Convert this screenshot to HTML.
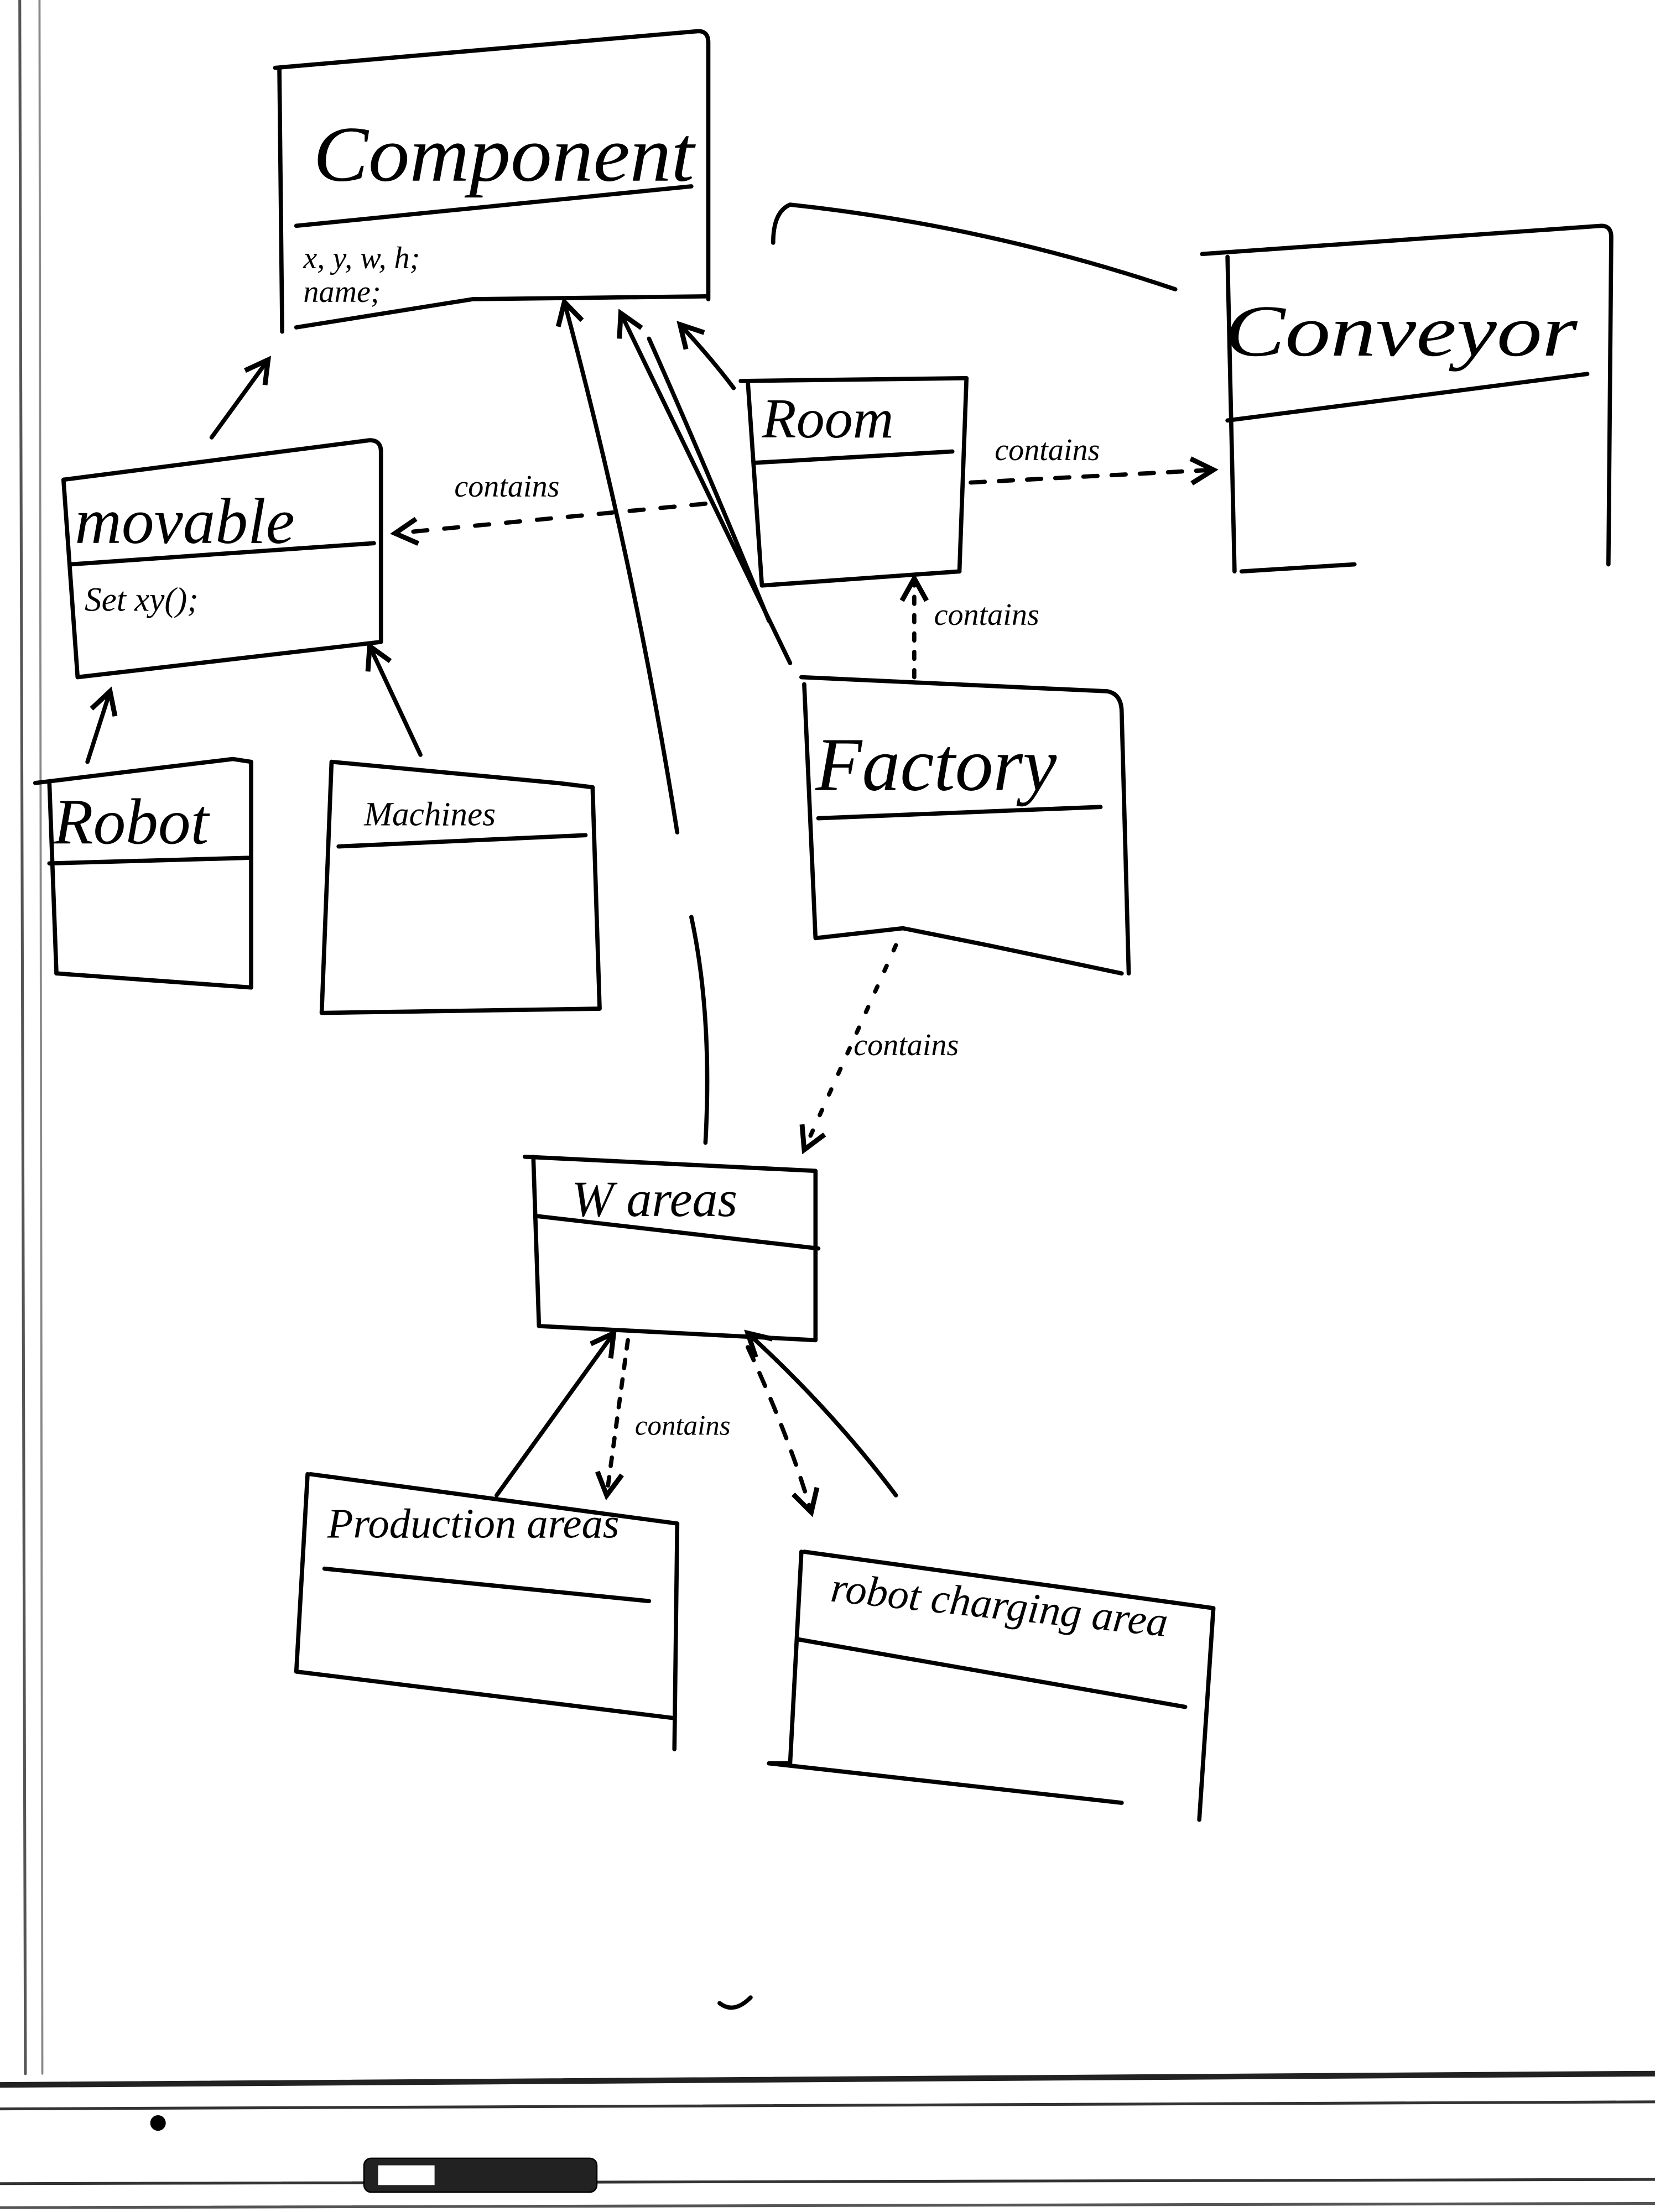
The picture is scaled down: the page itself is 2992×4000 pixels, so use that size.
<!DOCTYPE html>
<html><head><meta charset="utf-8"><style>
html,body{margin:0;padding:0;background:#fff;}
svg{display:block;}
text{font-family:"Liberation Serif",serif;font-style:italic;fill:#000;}
</style></head><body>
<svg width="2992" height="4000" viewBox="0 0 1173 1568" xmlns="http://www.w3.org/2000/svg">
<defs>
<marker id="a" viewBox="0 0 12 12" refX="10" refY="6" markerWidth="7" markerHeight="7" orient="auto-start-reverse">
<path d="M1,1 L10,6 L1,11" fill="none" stroke="#000" stroke-width="2"/></marker>
</defs>
<g fill="none" stroke="#000" stroke-width="3" stroke-linecap="round" stroke-linejoin="round">
<path d="M14,0 L18,1470" stroke="#555" stroke-width="2"/>
<path d="M28,0 L30,1470" stroke="#888" stroke-width="1.5"/>
<path d="M0,1478 L1173,1470" stroke="#222" stroke-width="4"/>
<path d="M0,1495 L1173,1490" stroke="#333" stroke-width="2"/>
<path d="M0,1548 L1173,1545" stroke="#333" stroke-width="2"/>
<path d="M0,1565 L1173,1562" stroke="#555" stroke-width="2"/>
<rect x="258" y="1530" width="165" height="24" rx="5" fill="#222" stroke="#000" stroke-width="1"/>
<rect x="268" y="1535" width="40" height="14" fill="#fff" stroke="none"/>
<circle cx="112" cy="1505" r="4" fill="#000"/>
<path d="M510,1420 Q520,1428 532,1416"/>

<path d="M195,48 L495,22 Q502,22 502,30 L502,212"/>
<path d="M198,48 L200,235"/>
<path d="M210,232 L335,212 L500,210"/>
<path d="M210,160 L490,132"/>
<path d="M852,180 L1135,160 Q1142,160 1142,168 L1140,400"/>
<path d="M870,182 L875,405"/>
<path d="M880,405 L960,400"/>
<path d="M870,298 L1125,265"/>
<path d="M833,205 Q700,160 560,145 Q548,150 548,172"/>
<path d="M525,270 L685,268 L680,405"/>
<path d="M530,270 L540,415 L680,405"/>
<path d="M535,328 L675,320"/>
<path d="M520,275 Q505,255 482,230" marker-end="url(#a)"/>
<path d="M688,342 L860,333" stroke-dasharray="10,10" marker-end="url(#a)"/>
<path d="M45,340 L262,312 Q270,312 270,320 L270,455 L55,480 L45,340"/>
<path d="M50,400 L265,385"/>
<path d="M150,310 L190,255" marker-end="url(#a)"/>
<path d="M500,357 L280,378" stroke-dasharray="10,12" marker-end="url(#a)"/>
<path d="M25,555 L165,538 L178,540 L178,700 L40,690"/>
<path d="M35,555 L40,690"/>
<path d="M35,612 L178,608"/>
<path d="M62,540 L78,490" marker-end="url(#a)"/>
<path d="M235,540 L395,555 L420,558 L425,715 L228,718 L235,540"/>
<path d="M240,600 L415,592"/>
<path d="M298,535 L262,458" marker-end="url(#a)"/>
<path d="M568,480 L785,490 Q795,492 795,505 L800,690"/>
<path d="M570,485 L578,665 L640,658 L700,670 L795,690"/>
<path d="M580,580 L780,572"/>
<path d="M560,470 L440,222" marker-end="url(#a)"/>
<path d="M545,440 Q500,330 460,240"/>
<path d="M648,480 L648,410" stroke-dasharray="5,8" marker-end="url(#a)"/>
<path d="M635,670 L570,815" stroke-dasharray="4,12" marker-end="url(#a)"/>
<path d="M500,810 Q505,720 490,650"/>
<path d="M480,590 Q450,400 400,214" marker-end="url(#a)"/>
<path d="M372,820 L578,830 L578,950 L382,940 L378,820"/>
<path d="M380,862 L580,885"/>
<path d="M220,1045 L480,1080 L478,1240"/>
<path d="M218,1045 L210,1185 L478,1218"/>
<path d="M230,1112 L460,1135"/>
<path d="M352,1060 L435,945" marker-end="url(#a)"/>
<path d="M445,950 L430,1060" stroke-dasharray="6,8" marker-end="url(#a)"/>
<path d="M570,1100 L860,1140 L850,1290"/>
<path d="M568,1100 L560,1250 L545,1250 L795,1278"/>
<path d="M565,1162 L840,1210"/>
<path d="M635,1060 Q590,1000 530,945" marker-end="url(#a)"/>
<path d="M530,955 Q560,1020 575,1072" stroke-dasharray="10,10" marker-end="url(#a)"/>
</g>
<text x="222" y="128" font-size="56" textLength="270" lengthAdjust="spacingAndGlyphs">Component</text>
<text x="215" y="190" font-size="22">x, y, w, h;</text>
<text x="215" y="214" font-size="22">name;</text>
<text x="868" y="252" font-size="52" textLength="250" lengthAdjust="spacingAndGlyphs">Conveyor</text>
<text x="540" y="310" font-size="40">Room</text>
<text x="705" y="326" font-size="22">contains</text>
<text x="53" y="385" font-size="46">movable</text>
<text x="60" y="433" font-size="24">Set xy();</text>
<text x="322" y="352" font-size="22">contains</text>
<text x="38" y="598" font-size="46">Robot</text>
<text x="258" y="585" font-size="24">Machines</text>
<text x="578" y="560" font-size="54">Factory</text>
<text x="662" y="443" font-size="22">contains</text>
<text x="605" y="748" font-size="22">contains</text>
<text x="405" y="862" font-size="36">W areas</text>
<text x="450" y="1017" font-size="20">contains</text>
<text x="232" y="1090" font-size="30">Production areas</text>
<text x="588" y="1135" font-size="30" transform="rotate(6 588 1135)">robot charging area</text>
</svg>
</body></html>
